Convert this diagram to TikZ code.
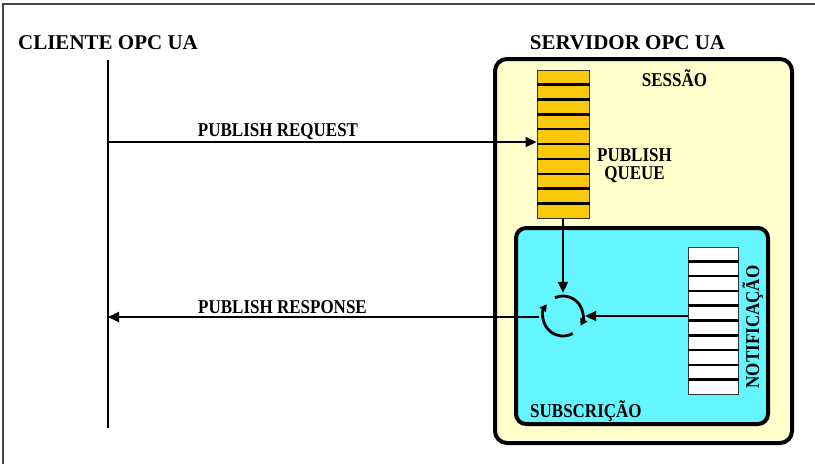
\documentclass[tikz,border=0pt]{standalone}
\usepackage{fontspec}
\setmainfont{Liberation Serif}
\usetikzlibrary{arrows.meta,calc}

\definecolor{sessfill}{RGB}{255,255,204}
\definecolor{subfill}{RGB}{100,245,255}
\definecolor{queuefill}{RGB}{250,200,10}
\definecolor{framegray}{RGB}{70,70,70}

% labels are set slightly condensed (taller than wide)
\newcommand{\tallbf}[1]{\scalebox{1}[1.15]{#1}}

\tikzset{
  lbl/.style={font=\fontsize{17}{19}\selectfont\bfseries, inner sep=0pt},
  title/.style={font=\fontsize{21}{24}\selectfont\bfseries, inner sep=0pt},
  arr/.style={line width=2pt, -{Triangle[length=11pt,width=10pt]}},
  cyclearc/.style={line width=2.8pt, -{Triangle[length=7pt,width=7.5pt]}},
  bigbox/.style={draw, line width=4pt, rounded corners=12pt, inner sep=0pt},
  queuebox/.style={draw=black!80, line width=1pt, inner sep=0pt,
    minimum width=52pt, minimum height=148pt},
  cellline/.style={line width=2.6pt},
}

\begin{document}
\begin{tikzpicture}[x=1pt,y=1pt]
\useasboundingbox (0,0) rectangle (815,-464);

% outer frame
\draw[framegray, line width=1.5pt] (3,-464) -- (3,-4) -- (815,-4);

% titles
\node[title, anchor=base] (cli) at (108,-49) {CLIENTE OPC UA};
\node[title, anchor=base] (srv) at (627.5,-49) {SERVIDOR OPC UA};

% client lifeline
\coordinate (lifetop) at (108,-60);
\coordinate (lifebot) at (108,-428);
\draw[line width=2.4pt] (lifetop) -- (lifebot);

% session and subscription containers
\node[bigbox, fill=sessfill, minimum width=297pt, minimum height=384pt] (sess) at (643.5,-251) {};
\node[bigbox, rounded corners=10pt, fill=subfill, minimum width=252pt, minimum height=196pt] (sub) at (642,-326) {};

\node[lbl, anchor=base] (sesslbl) at (674.5,-86) {\tallbf{SESSÃO}};
\node[lbl, anchor=base west] (sublbl) at (530,-417) {\tallbf{SUBSCRIÇÃO}};

% publish queue
\node[queuebox, fill=queuefill] (pq) at (563,-144) {};
\foreach \i in {1,...,9}
  \draw[cellline] ($(pq.north west)!\i/10!(pq.south west)$) -- ($(pq.north east)!\i/10!(pq.south east)$);
\node[lbl, anchor=base] (pqlbl1) at (634.5,-161) {\tallbf{PUBLISH}};
\node[lbl, anchor=base] (pqlbl2) at (634.5,-179) {\tallbf{QUEUE}};

% notification queue
\node[queuebox, fill=white, minimum width=50pt, minimum height=147pt] (nq) at (713,-320.5) {};
\foreach \i in {1,...,9}
  \draw[cellline] ($(nq.north west)!\i/10!(nq.south west)$) -- ($(nq.north east)!\i/10!(nq.south east)$);
\node[lbl, rotate=90, anchor=base] (nqlbl) at (759,-327) {\tallbf{NOTIFICAÇÃO}};

% publish cycle
\node[circle, minimum size=40pt, inner sep=0pt] (cyc) at (563,-316) {};
\draw[cyclearc] ([shift={(114:20pt)}]cyc.center) arc[start angle=114, end angle=-29, radius=20pt];
\draw[cyclearc] ([shift={(-61:20pt)}]cyc.center) arc[start angle=-61, end angle=-216, radius=20pt];

% messages
\coordinate (reqstart) at (108,-142);
\draw[arr] (reqstart) -- (pq.west |- reqstart);
\node[lbl, anchor=base] (reqlbl) at (278,-136) {\tallbf{PUBLISH REQUEST}};

\draw[arr] (pq.south) -- ([yshift=3pt]cyc.north);
\draw[arr] (nq.west |- cyc.east) -- ([xshift=2pt]cyc.east);

\coordinate (respend) at (108,-317);
\draw[arr] ([xshift=-4pt]cyc.west |- respend) -- (respend);
\node[lbl, anchor=base] (resplbl) at (282.5,-313) {\tallbf{PUBLISH RESPONSE}};
\end{tikzpicture}
\end{document}
